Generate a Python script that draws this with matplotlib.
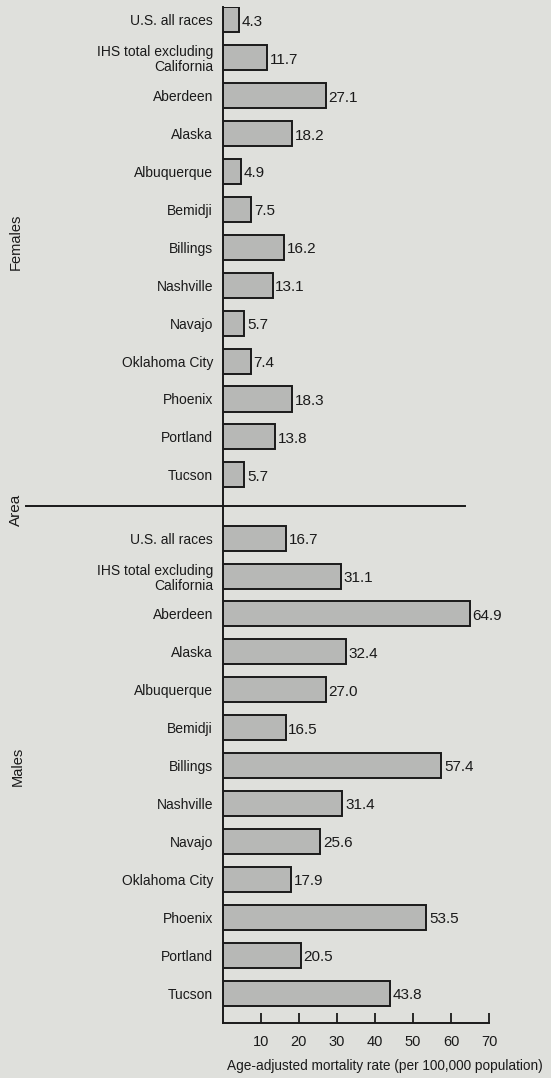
import matplotlib
matplotlib.use("Agg")
import matplotlib.pyplot as plt
import numpy as np

# areas and rates (per 100,000)
areas = ["U.S. all races", "IHS total excluding\nCalifornia", "Aberdeen", "Alaska",
         "Albuquerque", "Bemidji", "Billings", "Nashville", "Navajo",
         "Oklahoma City", "Phoenix", "Portland", "Tucson"]
females = [4.3, 11.7, 27.1, 18.2, 4.9, 7.5, 16.2, 13.1, 5.7, 7.4, 18.3, 13.8, 5.7]
males = [16.7, 31.1, 64.9, 32.4, 27.0, 16.5, 57.4, 31.4, 25.6, 17.9, 53.5, 20.5, 43.8]
xticks = [10, 20, 30, 40, 50, 60, 70]

bg = "#dfe0dc"
barcol = "#b7b8b6"
ink = "#1a1a1a"
plt.rcParams["font.family"] = ["Liberation Sans", "DejaVu Sans"]

fig = plt.figure(figsize=(5.51, 10.78), dpi=100, facecolor=bg)
ax = fig.add_axes([222.7 / 551, 1 - 1023 / 1078, 266.6 / 551, 1016 / 1078])
ax.set_facecolor(bg)

n = len(areas)
gap = 1.67
fpos = np.arange(n)
mpos = np.arange(n) + (n - 1) + gap

for pos, vals in [(fpos, females), (mpos, males)]:
    ax.barh(pos, vals, height=0.66, color=barcol, edgecolor=ink, linewidth=1.4)
    for p, v in zip(pos, vals):
        ax.text(v + 0.7, p + 0.05, f"{v:.1f}", va="center", ha="left", fontsize=11, color=ink)

ax.set_xlim(0, 70)
ax.set_ylim(mpos[-1] + 0.79, -0.34)
ax.set_yticks(list(fpos) + list(mpos))
ax.set_yticklabels(areas + areas, fontsize=10, ha="right", color=ink, linespacing=1.1)
ax.tick_params(axis="y", length=0, pad=7)
ax.set_xticks(xticks)
ax.set_xticklabels([str(t) for t in xticks], fontsize=10.5, color=ink)
ax.tick_params(axis="x", direction="in", length=7, width=1.3, pad=9, color=ink)
for s in ["top", "right"]:
    ax.spines[s].set_visible(False)
for s in ["left", "bottom"]:
    ax.spines[s].set_linewidth(1.4)
    ax.spines[s].set_color(ink)

# divider between the two groups
ymid = (fpos[-1] + mpos[0]) / 2
ax.axhline(ymid, xmin=(26 - 222.7) / 266.6, xmax=(465 - 222.7) / 266.6,
           color=ink, linewidth=1.4, clip_on=False)

fig.text(16 / 551, 1 - 242 / 1078, "Females", rotation=90, ha="center", va="center",
         fontsize=10.5, color=ink)
fig.text(16 / 551, 1 - 510 / 1078, "Area", rotation=90, ha="center", va="center",
         fontsize=11, color=ink)
fig.text(18 / 551, 1 - 766 / 1078, "Males", rotation=90, ha="center", va="center",
         fontsize=10.5, color=ink)
fig.text(385 / 551, 1 - 1066 / 1078, "Age-adjusted mortality rate (per 100,000 population)",
         ha="center", va="center", fontsize=9.8, color=ink)

fig.savefig("out.png", dpi=100, facecolor=bg)
